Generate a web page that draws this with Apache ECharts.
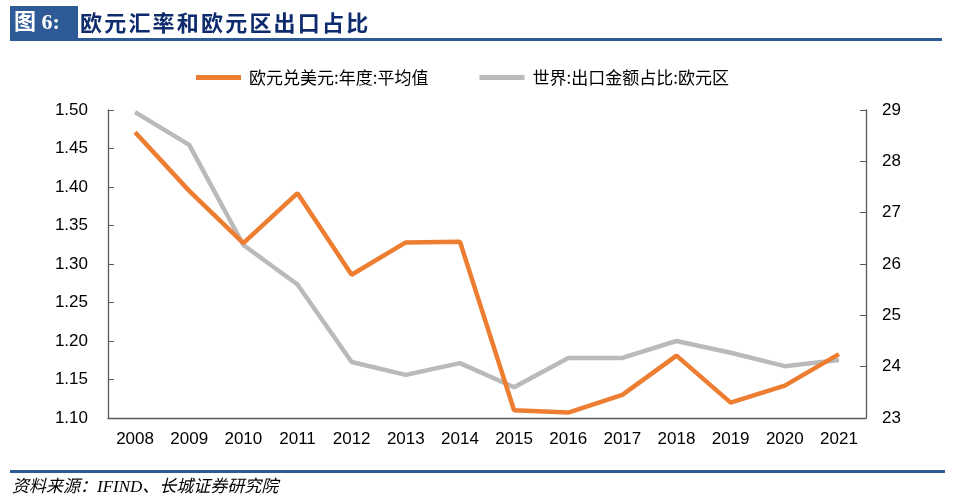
<!DOCTYPE html>
<html>
<head>
<meta charset="utf-8">
<script src="https://cdn.jsdelivr.net/npm/echarts@6/dist/echarts.min.js"></script>
<style>
html,body{margin:0;padding:0;background:#fff;}
#wrap{position:relative;width:955px;height:504px;overflow:hidden;}
#c{position:absolute;left:0;top:0;width:955px;height:504px;}
#tbox{position:absolute;left:10px;top:6px;width:68px;height:32px;background:#2E5A97;}
#tnum{position:absolute;left:14px;top:8px;color:#fff;font:bold 22px "Liberation Serif","Noto Sans CJK SC";line-height:28px;}
#ttxt{position:absolute;left:80px;top:7px;color:#0E2B6E;font:bold 22px "Noto Sans CJK SC";letter-spacing:2.2px;line-height:28px;}
#tline{position:absolute;left:10px;top:38px;width:932px;height:2.5px;background:#2E5A97;}
#fline{position:absolute;left:10px;top:470px;width:935px;height:3px;background:#2E5A97;}
#ftxt{position:absolute;left:12px;top:475px;color:#000;font:italic 17px "Liberation Serif","Noto Sans CJK SC";line-height:24px;}
</style>
</head>
<body>
<div id="wrap">
<div id="c"></div>
<div id="tbox"></div>
<div id="tnum">图 6:</div>
<div id="ttxt">欧元汇率和欧元区出口占比</div>
<div id="tline"></div>
<div id="fline"></div>
<div id="ftxt">资料来源：IFIND、长城证券研究院</div>
</div>
<script>
var years = ['2008','2009','2010','2011','2012','2013','2014','2015','2016','2017','2018','2019','2020','2021'];
var eurUsd = [1.471, 1.395, 1.327, 1.392, 1.286, 1.328, 1.329, 1.110, 1.107, 1.130, 1.181, 1.120, 1.142, 1.183];
var euShare = [28.96, 28.32, 26.37, 25.60, 24.09, 23.84, 24.07, 23.60, 24.17, 24.17, 24.50, 24.27, 24.01, 24.13];
var seriesNames = ['欧元兑美元:年度:平均值', '世界:出口金额占比:欧元区'];

var chart = echarts.init(document.getElementById('c'));
var axisLineStyle = {color: '#595959', width: 1.3};
chart.setOption({
  animation: false,
  backgroundColor: '#fff',
  legend: {
    top: 64,
    left: 191,
    itemWidth: 45,
    itemHeight: 5,
    itemGap: 51,
    icon: 'rect',
    textStyle: {fontFamily: 'Noto Sans CJK SC', fontSize: 17, color: '#000', padding: [0, 0, 0, 3]},
    data: seriesNames
  },
  grid: {left: 108, right: 89, top: 110, bottom: 86},
  xAxis: {
    type: 'category',
    data: years,
    boundaryGap: true,
    axisLine: {lineStyle: axisLineStyle},
    axisTick: {inside: true, length: 5, lineStyle: {color: '#595959'}},
    axisLabel: {fontFamily: 'Liberation Sans', fontSize: 17, color: '#000', margin: 13}
  },
  yAxis: [{
    type: 'value',
    min: 1.10, max: 1.50, interval: 0.05,
    axisLine: {show: true, lineStyle: axisLineStyle},
    axisTick: {show: true, inside: true, length: 6, lineStyle: {color: '#595959'}},
    splitLine: {show: false},
    axisLabel: {fontFamily: 'Liberation Sans', fontSize: 17, color: '#000', margin: 20,
      formatter: function(v){return v.toFixed(2);}}
  }, {
    type: 'value',
    min: 23, max: 29, interval: 1,
    position: 'right',
    axisLine: {show: true, lineStyle: axisLineStyle},
    axisTick: {show: true, inside: true, length: 6, lineStyle: {color: '#595959'}},
    splitLine: {show: false},
    axisLabel: {fontFamily: 'Liberation Sans', fontSize: 17, color: '#000', margin: 16}
  }],
  series: [{
    name: seriesNames[0],
    type: 'line',
    yAxisIndex: 0,
    data: eurUsd,
    symbol: 'none',
    lineStyle: {color: '#ED7D31', width: 4.5},
    itemStyle: {color: '#ED7D31'},
    z: 3
  }, {
    name: seriesNames[1],
    type: 'line',
    yAxisIndex: 1,
    data: euShare,
    symbol: 'none',
    lineStyle: {color: '#BABABA', width: 4.5},
    itemStyle: {color: '#BABABA'},
    z: 2
  }]
});
</script>
</body>
</html>
